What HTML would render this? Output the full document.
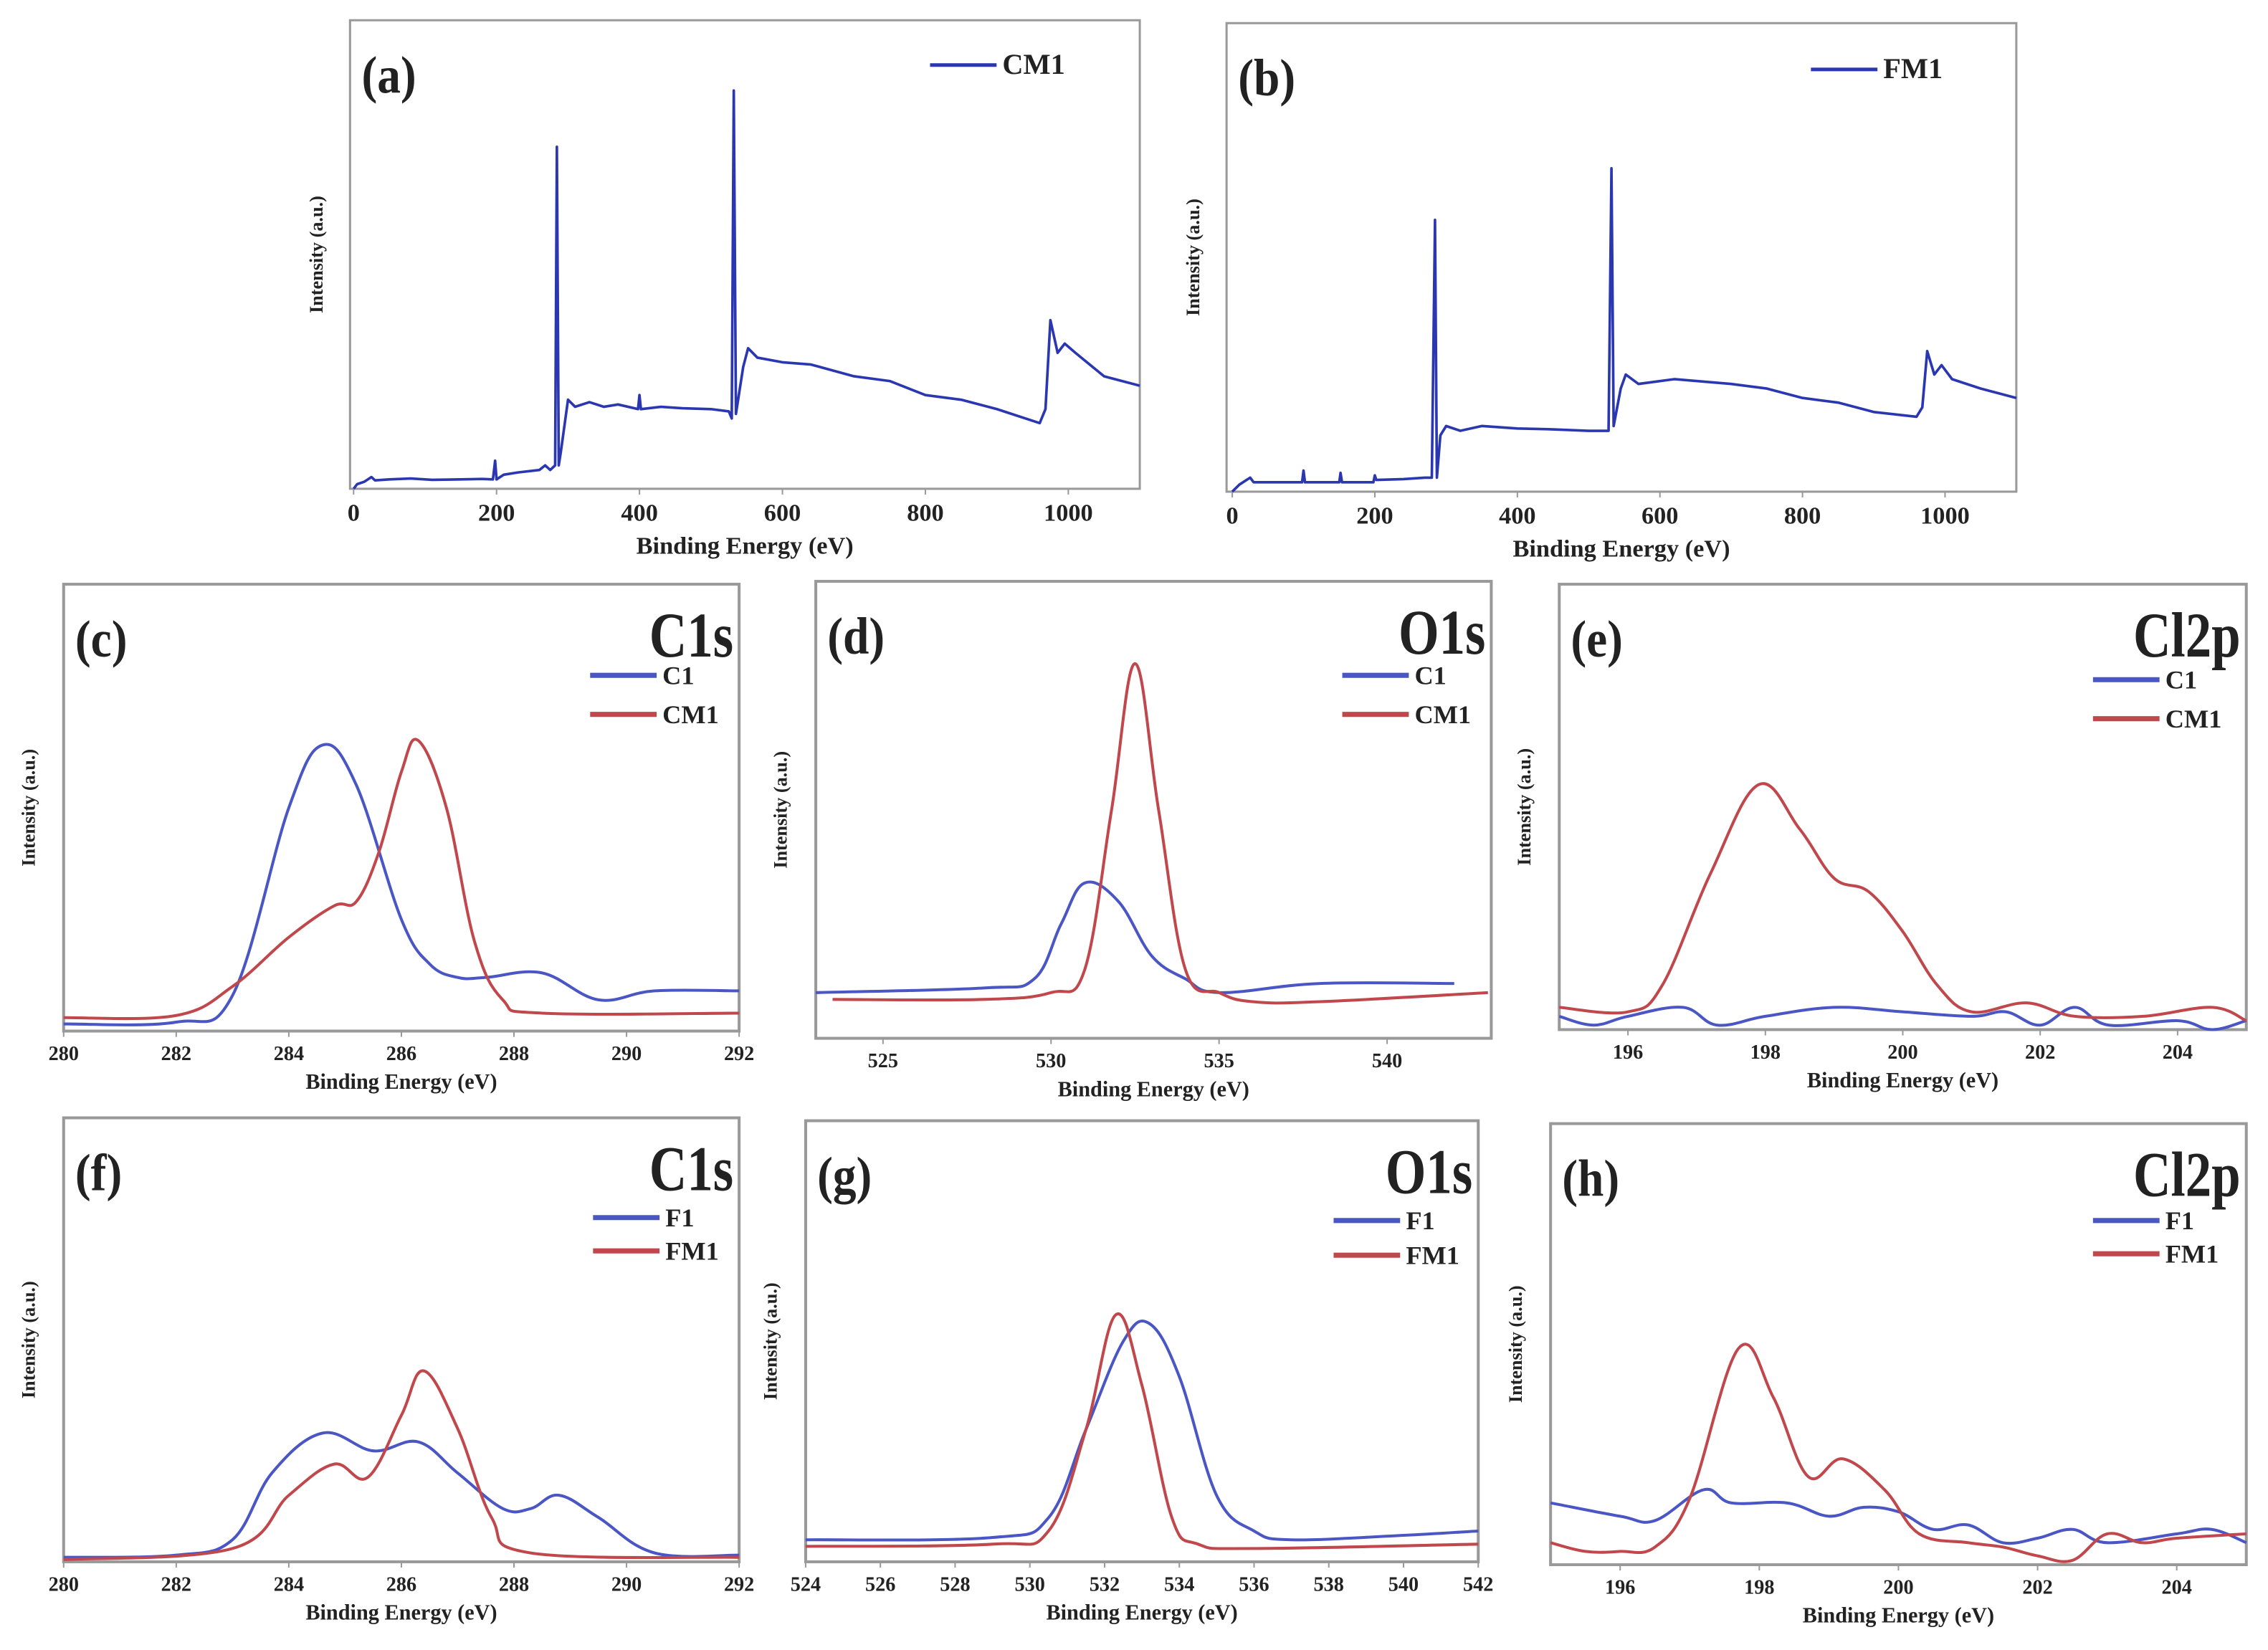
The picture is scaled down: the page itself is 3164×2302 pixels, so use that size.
<!DOCTYPE html>
<html><head><meta charset="utf-8">
<style>
html,body{margin:0;padding:0;background:#fff;}
svg{display:block;}
text{font-family:"Liberation Serif",serif;font-weight:bold;fill:#222;}
</style></head>
<body>
<svg id="fig" width="3164" height="2302" viewBox="0 0 1568 1141" preserveAspectRatio="none" xmlns="http://www.w3.org/2000/svg"></svg>
<script>
// ---- data (normalized intensity, fraction of plot height) ----
const aX=[0,5,15,25,30,50,80,110,150,180,195,198,200,210,230,260,268,275,282,284.5,287,290,300,310,330,350,370,398,400,402,430,460,500,525,529,532,535,545,552,565,600,640,700,750,800,850,900,960,968,975,985,995,1010,1050,1100];
const aY=[0,0.01,0.015,0.025,0.018,0.02,0.022,0.019,0.02,0.021,0.02,0.06,0.02,0.03,0.035,0.04,0.05,0.04,0.05,0.73,0.05,0.08,0.19,0.175,0.185,0.175,0.18,0.17,0.2,0.17,0.175,0.172,0.17,0.165,0.15,0.85,0.16,0.26,0.3,0.28,0.27,0.265,0.24,0.23,0.2,0.19,0.17,0.14,0.17,0.36,0.29,0.31,0.29,0.24,0.22];
const bX=[0,10,25,30,60,98,100,102,150,152,154,198,200,202,240,270,280,284.5,287,292,300,320,350,400,450,500,528,532,535,545,552,570,620,700,750,800,850,900,960,968,975,985,995,1010,1050,1100];
const bY=[0,0.015,0.03,0.02,0.02,0.02,0.045,0.02,0.02,0.04,0.02,0.02,0.035,0.025,0.027,0.03,0.03,0.58,0.03,0.12,0.14,0.13,0.14,0.135,0.133,0.13,0.13,0.69,0.14,0.22,0.25,0.23,0.24,0.23,0.22,0.2,0.19,0.17,0.16,0.18,0.3,0.25,0.27,0.24,0.22,0.2];
const cBX=[280,282,283,284,284.6,285.2,286,286.5,287,287.5,288.5,289.5,290.5,292];
const cBY=[0.016,0.02,0.08,0.5,0.64,0.55,0.25,0.15,0.12,0.12,0.13,0.07,0.09,0.09];
const cRX=[280,282,283,284,284.8,285.2,285.6,286,286.3,286.8,287.3,287.8,288.5,292];
const cRY=[0.03,0.035,0.1,0.21,0.28,0.29,0.4,0.58,0.65,0.5,0.2,0.07,0.04,0.04];
const dBX=[523,528,529.5,530.3,531,532,533,534,535,538,542];
const dBY=[0.1,0.11,0.13,0.25,0.34,0.3,0.18,0.13,0.1,0.12,0.12];
const dRX=[523.5,528,530,531,531.8,532.5,533.2,534,535,536,538,543];
const dRY=[0.085,0.085,0.1,0.15,0.5,0.82,0.5,0.15,0.1,0.08,0.08,0.1];
const eRX=[195,196,196.5,197.2,197.9,198.5,199,199.5,200,200.5,201,201.8,202.5,203.5,204.5,205];
const eRY=[0.05,0.04,0.1,0.35,0.55,0.45,0.34,0.31,0.22,0.1,0.04,0.06,0.03,0.03,0.05,0.02];
const eBX=[195,195.5,196,196.8,197.3,198,199,200,201,201.5,202,202.5,203,204,204.5,205];
const eBY=[0.03,0.01,0.03,0.05,0.01,0.03,0.05,0.04,0.03,0.04,0.01,0.05,0.01,0.02,0,0.02];
const fBX=[280,282,283,283.7,284.6,285.5,286.3,287,287.8,288.3,288.8,289.5,290.5,292];
const fBY=[0.01,0.015,0.05,0.2,0.29,0.25,0.27,0.2,0.12,0.12,0.15,0.1,0.02,0.015];
const fRX=[280,283,284,284.8,285.4,286,286.4,287,287.6,288.3,292];
const fRY=[0.005,0.03,0.15,0.22,0.19,0.33,0.43,0.3,0.1,0.02,0.01];
const gBX=[524,529,530.5,531.5,532.5,533.2,534,535,536,537,540,542];
const gBY=[0.05,0.055,0.1,0.3,0.5,0.54,0.42,0.15,0.07,0.05,0.06,0.07];
const gRX=[524,529,530.5,531.5,532.3,533,533.8,534.5,536,542];
const gRY=[0.035,0.04,0.07,0.3,0.56,0.4,0.1,0.04,0.03,0.04];
const hRX=[195,195.5,196,196.5,197,197.7,198.2,198.7,199.2,199.8,200.3,201,201.5,202,202.5,203,203.5,204,205];
const hRY=[0.05,0.03,0.03,0.04,0.15,0.49,0.38,0.2,0.24,0.17,0.07,0.05,0.04,0.02,0.01,0.07,0.05,0.06,0.07];
const hBX=[195,196,196.5,197.2,197.6,198.4,199,199.5,200,200.5,201,201.5,202,202.5,203,204,204.5,205];
const hBY=[0.14,0.11,0.1,0.17,0.14,0.14,0.11,0.13,0.12,0.08,0.09,0.05,0.06,0.08,0.05,0.07,0.08,0.05];
const ticksSurvey=[0,200,400,600,800,1000];
const ticksC=[280,282,284,286,288,290,292];
const ticksD=[525,530,535,540];
const ticksCl=[196,198,200,202,204];
const ticksG=[524,526,528,530,532,534,536,538,540,542];

const NS="http://www.w3.org/2000/svg";
const svg=document.getElementById('fig');
function mk(tag,attrs,parent,txt){const e=document.createElementNS(NS,tag);for(const k in attrs)e.setAttribute(k,attrs[k]);if(txt!==undefined)e.textContent=txt;(parent||svg).appendChild(e);return e;}
function smoothPath(pts){
  let d='M'+pts[0][0].toFixed(1)+' '+pts[0][1].toFixed(1);
  for(let i=0;i<pts.length-1;i++){
    const p0=pts[Math.max(0,i-1)],p1=pts[i],p2=pts[i+1],p3=pts[Math.min(pts.length-1,i+2)];
    const t=0.18;
    const c1=[p1[0]+(p2[0]-p0[0])*t,p1[1]+(p2[1]-p0[1])*t];
    const c2=[p2[0]-(p3[0]-p1[0])*t,p2[1]-(p3[1]-p1[1])*t];
    d+='C'+c1[0].toFixed(1)+' '+c1[1].toFixed(1)+' '+c2[0].toFixed(1)+' '+c2[1].toFixed(1)+' '+p2[0].toFixed(1)+' '+p2[1].toFixed(1);
  }
  return d;
}

function panel(p){
  const g=mk('g',{});
  
  
  const L=p.box[0],T=p.box[1],R=p.box[2],B=p.box[3];
  const sx=v=>L+(v-p.xmin)/(p.xmax-p.xmin)*(R-L);
  const sy=v=>B-v*(B-T);
  const frame=mk('rect',{x:L,y:T,width:R-L,height:B-T,fill:'none',stroke:'#999','stroke-width':p.survey?1.5:2},g);
  
  
  p.ticks.forEach(t=>{
    const x=sx(t);
    mk('line',{x1:x,y1:B,x2:x,y2:B+4,stroke:'#999','stroke-width':1},g);
    const tl=mk('text',{x:x,y:B+(p.survey?22:20),'text-anchor':'middle','font-size':p.survey?17:14},g,String(t));
    
    
  });
  const xt=mk('text',{x:(L+R)/2,y:B+(p.survey?45:40),'text-anchor':'middle','font-size':p.survey?17:15},g,'Binding Energy (eV)');
  
  
  const yc=(T+B)/2, yx=L-(p.survey?19:20);
  const yt=mk('text',{x:yx,y:yc,'text-anchor':'middle','font-size':13,transform:`rotate(-90 ${yx} ${yc})`},g,'Intensity (a.u.)');
  
  
  const pl=mk('text',{x:L+8,y:T+50,'font-size':36,transform:`translate(${L+8} 0) scale(0.9 1) translate(${-(L+8)} 0)`},g,'('+p.id+')');
  
  
  if(p.title){
    const tt=mk('text',{x:R-4,y:T+50,'text-anchor':'end','font-size':44,transform:`translate(${R-4} 0) scale(0.82 1) translate(${-(R-4)} 0)`},g,p.title);
    
    
  }
  p.series.forEach((s,i)=>{
    const pts=s.x.map((v,j)=>[sx(v),sy(s.y[j])]);
    let d;
    if(p.survey){d='';pts.forEach((q,j)=>{d+=(j?'L':'M')+q[0].toFixed(1)+' '+q[1].toFixed(1);});}
    else d=smoothPath(pts);
    const path=mk('path',{d:d,fill:'none',stroke:s.color,'stroke-width':p.survey?1.8:2,'stroke-linejoin':'round'},g);
    
    
    const ly=p.legY+i*p.legDy;
    const lg=mk('g',{},g);
    
    
    mk('line',{x1:p.legX,y1:ly,x2:p.legX+46,y2:ly,stroke:s.color,'stroke-width':p.survey?2.5:3.5},lg);
    mk('text',{x:p.legX+50,y:ly+6,'font-size':p.survey?20:18},lg,s.name);
  });
}
const BLUE='#2a37b0', LB='#4a56c4', RED='#c0484c';
panel({id:'a',survey:true,box:[242,14,788,338],xmin:-5,xmax:1100,ticks:ticksSurvey,legX:643,legY:45,legDy:0,series:[{name:'CM1',x:aX,y:aY,color:BLUE}]});
panel({id:'b',survey:true,box:[848,16,1394,340],xmin:-8,xmax:1100,ticks:ticksSurvey,legX:1252,legY:48,legDy:0,series:[{name:'FM1',x:bX,y:bY,color:BLUE}]});
panel({id:'c',title:'C1s',box:[44,404,511,713],xmin:280,xmax:292,ticks:ticksC,legX:408,legY:467,legDy:27,series:[{name:'C1',x:cBX,y:cBY,color:LB},{name:'CM1',x:cRX,y:cRY,color:RED}]});
panel({id:'d',title:'O1s',box:[564,402,1031,718],xmin:523,xmax:543.1,ticks:ticksD,legX:928,legY:467,legDy:27,series:[{name:'C1',x:dBX,y:dBY,color:LB},{name:'CM1',x:dRX,y:dRY,color:RED}]});
panel({id:'e',title:'Cl2p',box:[1078,404,1553,712],xmin:195,xmax:205,ticks:ticksCl,legX:1447,legY:470,legDy:27,series:[{name:'C1',x:eBX,y:eBY,color:LB},{name:'CM1',x:eRX,y:eRY,color:RED}]});
panel({id:'f',title:'C1s',box:[44,773,511,1080],xmin:280,xmax:292,ticks:ticksC,legX:410,legY:842,legDy:23,series:[{name:'F1',x:fBX,y:fBY,color:LB},{name:'FM1',x:fRX,y:fRY,color:RED}]});
panel({id:'g',title:'O1s',box:[557,775,1022,1080],xmin:524,xmax:542,ticks:ticksG,legX:922,legY:844,legDy:24,series:[{name:'F1',x:gBX,y:gBY,color:LB},{name:'FM1',x:gRX,y:gRY,color:RED}]});
panel({id:'h',title:'Cl2p',box:[1072,777,1553,1082],xmin:195,xmax:205,ticks:ticksCl,legX:1447,legY:844,legDy:23,series:[{name:'F1',x:hBX,y:hBY,color:LB},{name:'FM1',x:hRX,y:hRY,color:RED}]});
</script>
</body></html>
